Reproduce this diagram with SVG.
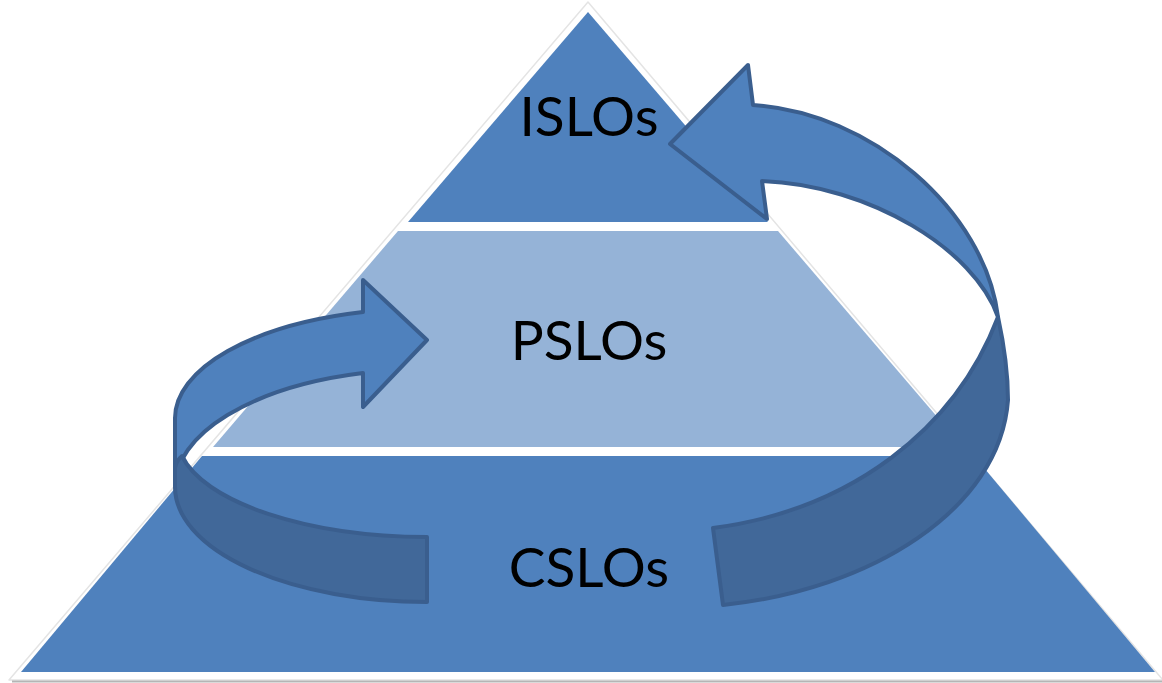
<svg xmlns="http://www.w3.org/2000/svg" width="1162" height="683" viewBox="0 0 1162 683">
  <style>
    .lvl-dark { fill: #4F81BD; }
    .lvl-light { fill: #95B3D7; }
    .label { font-family: Lato, "Open Sans", "Liberation Sans", sans-serif; font-size: 55px; fill: #000000; text-anchor: middle; }
    .arrow-back { fill: #4F81BD; stroke: #3A5E8E; stroke-width: 4; stroke-linejoin: round; }
    .arrow-front { fill: #416899; stroke: #3A5E8E; stroke-width: 4; stroke-linejoin: round; }
  </style>
  <rect width="1162" height="683" fill="#ffffff"/>

  <!-- white frame of the pyramid with its soft edge -->
  <g id="frame">
    <polygon points="588,2 1163,680 9,680" fill="#ffffff" stroke="#e4e4e4" stroke-width="1.5" stroke-linejoin="round"/>
    <line x1="12" y1="681.5" x2="1162" y2="681.5" stroke="#b5b5b5" stroke-width="2"/>
  </g>

  <!-- pyramid levels -->
  <g id="cslos">
    <polygon class="lvl-dark" points="202,456 974,456 1155,672 21,672"/>
    <text class="label" x="589" y="587">CSLOs</text>
  </g>
  <g id="pslos">
    <polygon class="lvl-light" points="398,231 778,231 963,447 213,447"/>
    <text class="label" x="589" y="360">PSLOs</text>
  </g>
  <g id="islos">
    <polygon class="lvl-dark" points="588,12 768,222 408,222"/>
    <text class="label" x="589" y="136">ISLOs</text>
  </g>

  <!-- curved arrows between levels -->
  <g id="connectors">
    <!-- CSLOs to PSLOs: rear band with head, then near band -->
    <path class="arrow-back" d="M175,487 L175,418 A252,110 0 0 1 363,312 L363,280 L427,340 L363,407 L363,373 A252,118 0 0 0 175,487 Z"/>
    <path class="arrow-front" d="M182,456 A252,100 0 0 0 427,537 L427,602 A252,115 0 0 1 175,487 L175,468 Q176,461 182,456 Z"/>

    <!-- CSLOs to ISLOs: rear band with head, then near band -->
    <path class="arrow-back" d="M748,65 L753,105 C870,112 985,210 998,317 C975,250 870,185 762,181 L767,219 L670,144 Z"/>
    <path class="arrow-front" d="M998,317 C1003,340 1008,370 1008,400 C1000,510 870,590 723,605 L713,528 C850,510 955,430 998,317 Z"/>
  </g>
</svg>
